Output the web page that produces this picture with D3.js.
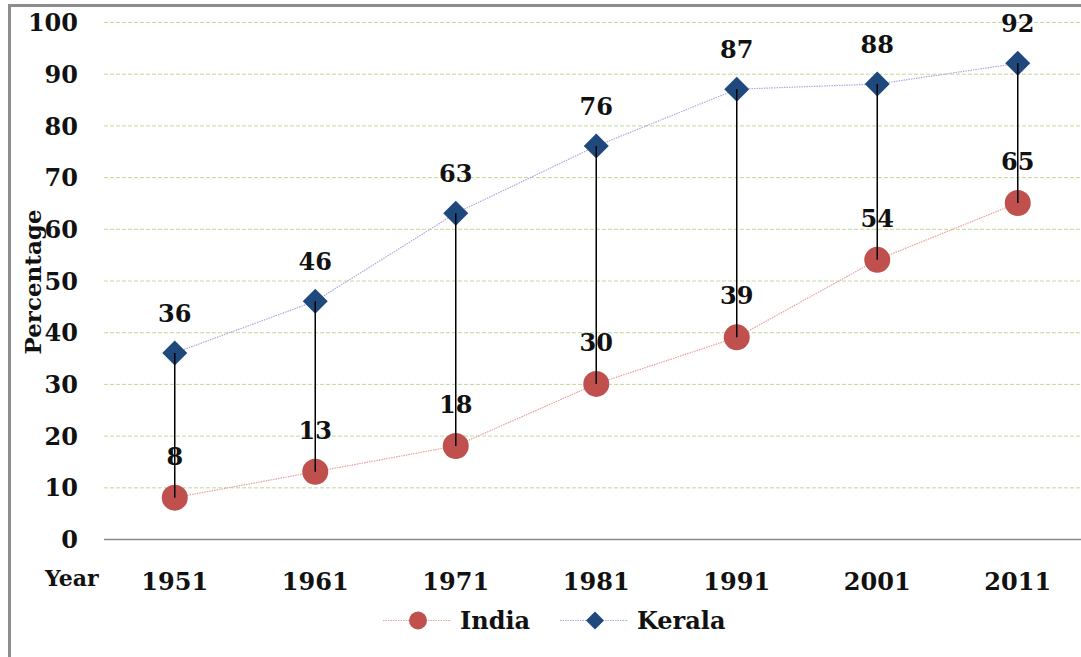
<!DOCTYPE html>
<html>
<head>
<meta charset="utf-8">
<script src="https://cdn.jsdelivr.net/npm/d3@7/dist/d3.min.js"></script>
<style>
  html, body { margin: 0; padding: 0; background: #fff; }
  svg { display: block; }
  text { font-family: "DejaVu Serif", "Liberation Serif", serif; font-weight: bold; fill: #111; }
</style>
</head>
<body>
<svg id="chart" width="1081" height="657"></svg>
<script>
// Literacy rate, India vs Kerala, census years
const years = ["1951", "1961", "1971", "1981", "1991", "2001", "2011"];
const india = [8, 13, 18, 30, 39, 54, 65];
const kerala = [36, 46, 63, 76, 87, 88, 92];
const yTicks = [0, 10, 20, 30, 40, 50, 60, 70, 80, 90, 100];
const seriesNames = ["India", "Kerala"];

const svg = d3.select("#chart");
const W = 1081, H = 657;

// Frame
svg.append("path")
  .attr("d", `M9.5,${H} V5.5 H${W}`)
  .attr("fill", "none").attr("stroke", "#8c8c8c").attr("stroke-width", 3);

const x = d3.scaleBand().domain(years).range([104.5, 1088]);
const y = d3.scaleLinear().domain([0, 100]).range([539, 22]);
const cx = d => x(d) + x.bandwidth() / 2;

// Gridlines
svg.append("g").selectAll("line")
  .data(yTicks.filter(t => t > 0))
  .join("line")
  .attr("x1", 104).attr("x2", W)
  .attr("y1", d => y(d) + 0.5).attr("y2", d => y(d) + 0.5)
  .attr("stroke", "#c4d79b").attr("stroke-width", 1)
  .attr("stroke-dasharray", "4,2");

// Y axis labels
const yAxis = d3.axisLeft(y).tickValues(yTicks).tickSize(0).tickPadding(0);
const gy = svg.append("g").attr("transform", "translate(78,0)").call(yAxis);
gy.select(".domain").remove();
gy.selectAll("text")
  .attr("font-size", 24).attr("dy", "0.36em")
  .style("font-family", "'DejaVu Serif', serif").style("font-weight", "bold").attr("fill", "#111");

// X axis
const xAxis = d3.axisBottom(x).tickSize(0).tickPadding(0);
const gx = svg.append("g").attr("transform", "translate(0,539)").call(xAxis);
gx.select(".domain").remove();
gx.selectAll("text")
  .attr("font-size", 24).attr("y", 51).attr("dy", 0)
  .style("font-family", "'DejaVu Serif', serif").style("font-weight", "bold").attr("fill", "#111");
svg.append("line")
  .attr("x1", 104).attr("x2", W).attr("y1", 539.5).attr("y2", 539.5)
  .attr("stroke", "#888").attr("stroke-width", 1.5);

svg.append("text").attr("x", 45).attr("y", 586).attr("font-size", 22).text("Year");

svg.append("text")
  .attr("transform", "translate(41,282) rotate(-90)")
  .attr("text-anchor", "middle").attr("font-size", 23).text("Percentage");

// Connecting lines for each series
const line = d3.line().x((d, i) => cx(years[i])).y(d => y(d));
svg.append("path").datum(india).attr("d", line)
  .attr("fill", "none").attr("stroke", "#e8a0a0").attr("stroke-width", 1.2)
  .attr("stroke-dasharray", "1.5,1");
svg.append("path").datum(kerala).attr("d", line)
  .attr("fill", "none").attr("stroke", "#b0a8e0").attr("stroke-width", 1.2)
  .attr("stroke-dasharray", "1.5,1");

// Markers
const diamond = s => `M0,${-s} L${s},0 L0,${s} L${-s},0 Z`;
svg.append("g").selectAll("circle").data(india).join("circle")
  .attr("cx", (d, i) => cx(years[i])).attr("cy", d => y(d)).attr("r", 13)
  .attr("fill", "#c0504d");
svg.append("g").selectAll("path").data(kerala).join("path")
  .attr("transform", (d, i) => `translate(${cx(years[i])},${y(d)})`)
  .attr("d", diamond(12.5)).attr("fill", "#1f497d");

// Vertical gap lines, drawn across the markers
svg.append("g").selectAll("line").data(years).join("line")
  .attr("x1", d => cx(d)).attr("x2", d => cx(d))
  .attr("y1", (d, i) => y(kerala[i])).attr("y2", (d, i) => y(india[i]))
  .attr("stroke", "#000").attr("stroke-width", 1.5);

// Value labels
svg.append("g").selectAll("text").data(india).join("text")
  .attr("x", (d, i) => cx(years[i])).attr("y", d => y(d) - 33)
  .attr("text-anchor", "middle").attr("font-size", 24).text(d => d);
svg.append("g").selectAll("text").data(kerala).join("text")
  .attr("x", (d, i) => cx(years[i])).attr("y", d => y(d) - 31)
  .attr("text-anchor", "middle").attr("font-size", 24).text(d => d);

// Legend
const legend = svg.append("g");
const legItems = [
  { name: seriesNames[0], x0: 383, color: "#e8a0a0", mark: "circle" },
  { name: seriesNames[1], x0: 560, color: "#b0a8e0", mark: "diamond" }
];
legItems.forEach(it => {
  const g = legend.append("g").attr("transform", `translate(${it.x0},620)`);
  g.append("line").attr("x1", 0).attr("x2", 68).attr("y1", 0.5).attr("y2", 0.5)
    .attr("stroke", it.color).attr("stroke-width", 1.2).attr("stroke-dasharray", "1.5,1");
  if (it.mark === "circle") {
    g.append("circle").attr("cx", 35).attr("cy", 0.5).attr("r", 9).attr("fill", "#c0504d");
  } else {
    g.append("path").attr("transform", "translate(35,0.5)").attr("d", diamond(9)).attr("fill", "#1f497d");
  }
  g.append("text").attr("x", 77).attr("y", 9).attr("font-size", 24).text(it.name);
});
</script>
</body>
</html>
